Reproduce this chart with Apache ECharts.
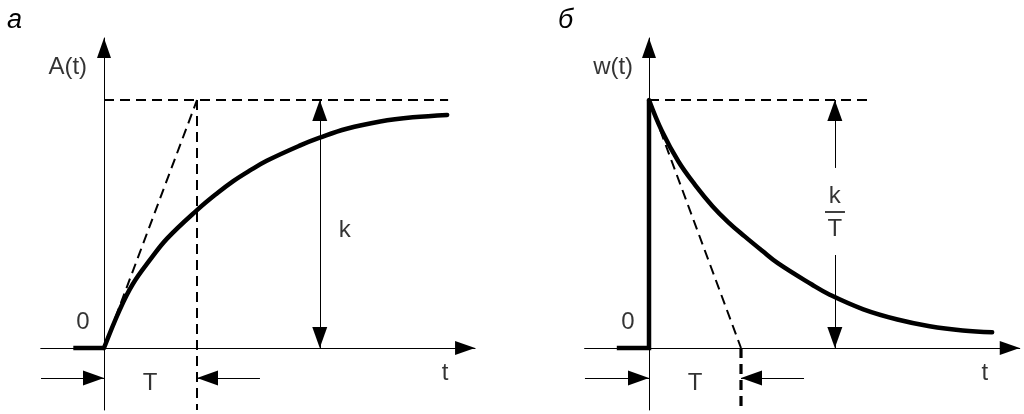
<!DOCTYPE html>
<html><head><meta charset="utf-8">
<script src="https://cdn.jsdelivr.net/npm/echarts@6/dist/echarts.min.js"></script>
<style>html,body{margin:0;padding:0;background:#fff}#c{width:1024px;height:414px}</style>
</head><body><div id="c"></div>
<script>
// ---------- data (T = 1, k = 1) ----------
// panel а : transient response A(t)
const stepPreT = [-0.33, 0];
const stepPreA = [0, 0];
const stepT = [0, 0.17, 0.31, 0.50, 0.68, 1.00, 1.22, 1.39, 1.57, 1.75, 2.11, 2.32, 2.61, 2.97, 3.32, 3.69];
const stepA = [0, 0.155, 0.258, 0.358, 0.442, 0.556, 0.625, 0.673, 0.716, 0.755, 0.817, 0.848, 0.884, 0.913, 0.930, 0.940];
// panel б : impulse response w(t)
const impPreT = [-0.35, 0, 0];
const impPreW = [0, 0, 1];
const impT = [0, 0.14, 0.32, 0.50, 0.69, 0.86, 1.04, 1.23, 1.40, 1.77, 1.97, 2.33, 2.70, 3.05, 3.41, 3.73];
const impW = [1, 0.875, 0.752, 0.658, 0.572, 0.508, 0.450, 0.392, 0.342, 0.256, 0.214, 0.156, 0.115, 0.088, 0.071, 0.064];

const K = 1, T = 1;
const guideEndA = 3.70, guideEndB = 2.39;
const kArrowA = 2.32, kArrowB = 2.02;
const kGapLow = 0.375, kGapHigh = 0.726;
const tArrowY = -0.121;
const tArrowLeftA = -0.677, tArrowRightA = 1.677;
const tArrowLeftB = -0.696, tArrowRightB = 1.685;
const fracBar = [1.913, 2.13, 0.548];

// ---------- layout ----------
const W = 1024, H = 414;
const Y0 = 348, UY = 248, YMIN = -0.25, YMAX = 1.25;
const PA = {x0: 104, ux: 93, xmin: -0.68, xmax: 3.99};
const PB = {x0: 649, ux: 92, xmin: -0.70, xmax: 4.03};
const FONT = 'Liberation Sans';

function grid(p) {
  return {left: p.x0 + p.xmin * p.ux, right: W - (p.x0 + p.xmax * p.ux),
          top: Y0 - YMAX * UY, bottom: H - (Y0 - YMIN * UY), containLabel: false};
}
const axisCommon = {
  axisLine: {show: true, onZero: true, symbol: ['none', 'triangle'], symbolSize: [14, 20], symbolOffset: [0, -10],
             lineStyle: {color: '#000', width: 1}},
  axisTick: {show: false}, axisLabel: {show: false}, splitLine: {show: false}
};
function xAx(i, p) { return Object.assign({type: 'value', gridIndex: i, min: p.xmin, max: p.xmax}, axisCommon); }
function yAx(i) { return Object.assign({type: 'value', gridIndex: i, min: YMIN, max: YMAX}, axisCommon); }

const zip = (a, b) => a.map((v, i) => [v, b[i]]);
function ln(i, data, style, extra) {
  return Object.assign({type: 'line', xAxisIndex: i, yAxisIndex: i, data: data, symbol: 'none', silent: true,
    animation: false, lineStyle: Object.assign({color: '#000', width: 1}, style)}, extra || {});
}
const dash = {width: 2, type: [10, 6]};
const HEAD = [15, 21], HEAD_OFF = [0, '50%'];
function end(coord, sym) {
  return {coord: coord, symbol: sym, symbolSize: HEAD, symbolOffset: HEAD_OFF};
}
function arrow(from, to, both) {
  return [end(from, both ? 'triangle' : 'none'), end(to, 'triangle')];
}
function arrows(i, list) {
  return ln(i, [], {}, {markLine: {silent: true, animation: false, symbol: ['triangle', 'triangle'],
    symbolSize: [HEAD, HEAD], symbolOffset: [HEAD_OFF, HEAD_OFF], label: {show: false},
    lineStyle: {color: '#000', width: 1, type: 'solid'}, itemStyle: {color: '#000'},
    emphasis: {disabled: true}, data: list}});
}
function labels(i, list, size) {
  return {type: 'scatter', xAxisIndex: i, yAxisIndex: i, symbolSize: 1, silent: true, animation: false,
    itemStyle: {color: 'rgba(0,0,0,0)'}, clip: false,
    label: {show: true, position: 'inside', formatter: '{b}', color: '#000', fontFamily: FONT, fontSize: size || 24},
    data: list};
}
const titleStyle = {fontStyle: 'italic', fontWeight: 'normal', fontSize: 27, fontFamily: FONT, color: '#000'};

const option = {
  animation: false,
  backgroundColor: '#fff',
  title: [
    {text: 'а', left: 2, top: 2, textStyle: titleStyle},
    {text: 'б', left: 553, top: 2, textStyle: titleStyle}
  ],
  grid: [grid(PA), grid(PB)],
  xAxis: [xAx(0, PA), xAx(1, PB)],
  yAxis: [yAx(0), yAx(1)],
  series: [
    // panel а
    ln(0, [[0, K], [guideEndA, K]], dash),
    ln(0, [[0, 0], [T, K]], dash),
    ln(0, [[T, K], [T, YMIN]], dash),
    ln(0, zip(stepPreT, stepPreA), {width: 4.5}),
    ln(0, zip(stepT, stepA), {width: 4.5, cap: 'round'}, {smooth: 0.4}),
    arrows(0, [
      arrow([kArrowA, 0], [kArrowA, K], true),
      arrow([tArrowLeftA, tArrowY], [0, tArrowY]),
      arrow([tArrowRightA, tArrowY], [T, tArrowY])
    ]),
    labels(0, [
      {name: 'A(t)', value: [-0.39, 1.13]},
      {name: 'k', value: [2.59, 0.476]},
      {name: '0', value: [-0.226, 0.105]},
      {name: 't', value: [3.667, -0.101]},
      {name: 'T', value: [0.495, -0.141]}
    ]),
    // panel б
    ln(1, [[0, K], [guideEndB, K]], dash),
    ln(1, [[0, K], [T, 0]], dash),
    ln(1, [[T, 0], [T, YMIN]], {width: 3.2, type: [10, 6]}),
    ln(1, zip(impPreT, impPreW), {width: 4.5, join: 'miter'}),
    ln(1, zip(impT, impW), {width: 4.5, cap: 'round'}, {smooth: 0.4}),
    ln(1, [[fracBar[0], fracBar[2]], [fracBar[1], fracBar[2]]], {width: 1.5}),
    arrows(1, [
      arrow([kArrowB, kGapHigh], [kArrowB, K]),
      arrow([kArrowB, kGapLow], [kArrowB, 0]),
      arrow([tArrowLeftB, tArrowY], [0, tArrowY]),
      arrow([tArrowRightB, tArrowY], [T, tArrowY])
    ]),
    labels(1, [
      {name: 'w(t)', value: [-0.39, 1.13]},
      {name: 'k', value: [2.02, 0.612]},
      {name: 'T', value: [2.02, 0.48]},
      {name: '0', value: [-0.228, 0.105]},
      {name: 't', value: [3.65, -0.101]},
      {name: 'T', value: [0.5, -0.141]}
    ])
  ]
};
const chart = echarts.init(document.getElementById('c'), null, {renderer: 'canvas'});
chart.setOption(option);
</script>
</body></html>
